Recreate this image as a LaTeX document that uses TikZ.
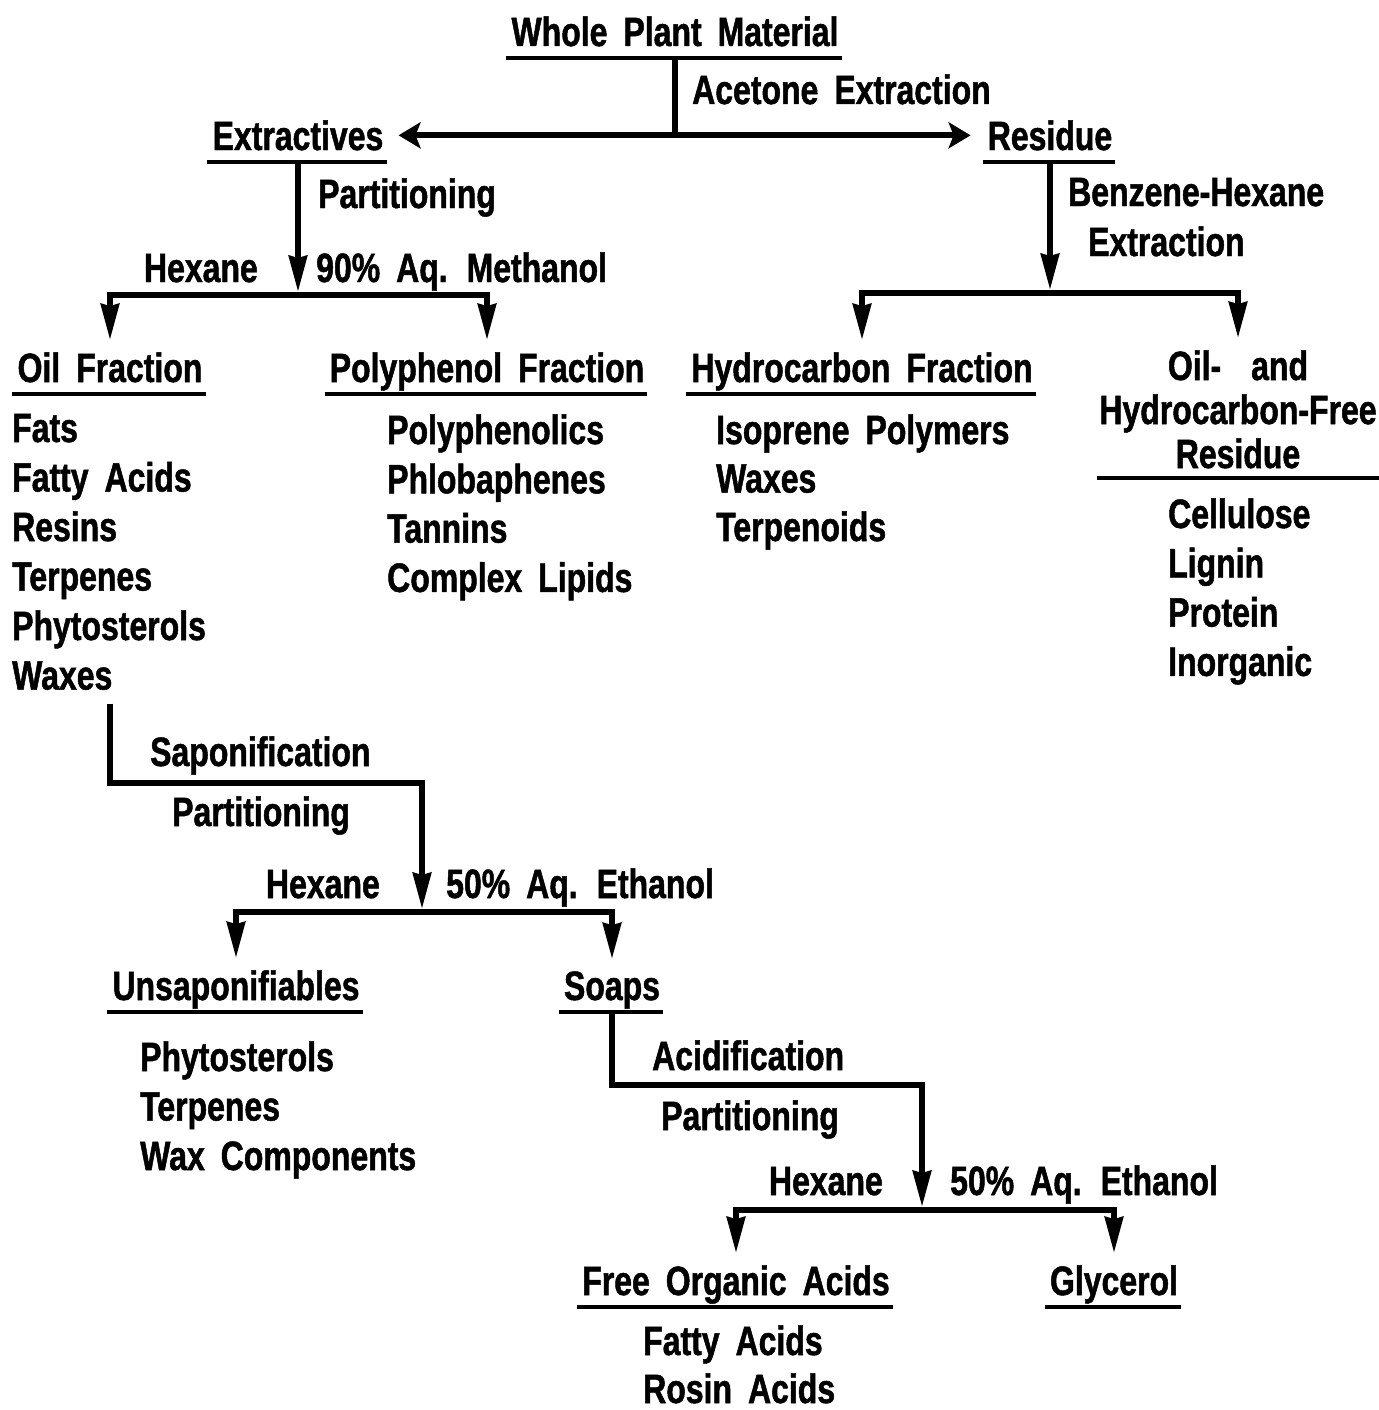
\documentclass[tikz,border=0pt]{standalone}
\usepackage{fontspec}
\setmainfont{Liberation Sans}[FakeStretch=0.78,WordSpace=1.8,FakeBold=1.2]
\usetikzlibrary{arrows.meta,calc}
\newcommand{\lblfont}{\fontsize{41}{41}\selectfont\bfseries}
\begin{document}
\begin{tikzpicture}[x=1pt,y=-1pt,
  ttl/.style={anchor=base, inner sep=0pt, font=\lblfont},
  txt/.style={anchor=base west, inner sep=0pt, font=\lblfont},
  txtr/.style={anchor=base east, inner sep=0pt, font=\lblfont},
  ln/.style={line width=6pt, line join=miter},
  ul/.style={line width=3.5pt},
  down/.style={-{Stealth[length=36pt,width=18pt,inset=2pt]}, shorten >=3pt},
  twodown/.style={{Stealth[length=36pt,width=18pt,inset=2pt]}-{Stealth[length=36pt,width=18pt,inset=2pt]}},
  dbl/.style={{Stealth[length=22pt,width=26pt,inset=5pt]}-{Stealth[length=22pt,width=26pt,inset=5pt]}}
]
\useasboundingbox (0,0) rectangle (1378,1410);
\fill[white] (0,0) rectangle (1378,1410);

% titles
\node[ttl] (wpm) at (675,46) {Whole Plant Material};
\node[ttl] (ext) at (298,150) {Extractives};
\node[ttl] (res) at (1050,150) {Residue};
\node[ttl] (oil) at (110,382) {Oil Fraction};
\node[ttl] (poly) at (487,382) {Polyphenol Fraction};
\node[ttl] (hyd) at (862,382) {Hydrocarbon Fraction};
\node[ttl] (ofr1) at (1238,380) {Oil-\hspace{14pt} and};
\node[ttl] (ofr2) at (1238,424) {Hydrocarbon-Free};
\node[ttl] (ofr3) at (1238,468) {Residue};
\node[ttl] (unsap) at (236,1000) {Unsaponifiables};
\node[ttl] (soaps) at (612,1000) {Soaps};
\node[ttl] (foa) at (736,1295) {Free Organic Acids};
\node[ttl] (gly) at (1114,1295) {Glycerol};

% underlines
\foreach \n in {wpm,ext,res,oil,poly,hyd,unsap,soaps,foa,gly}
  \draw[ul] ($(\n.base west)+(-5,12)$) -- ($(\n.base east)+(3,12)$);
\draw[ul] ($(ofr2.west |- ofr3.base)+(-2,10)$) -- ($(ofr2.east |- ofr3.base)+(2,10)$);

% process labels
\node[txt] (acet) at (692,104) {Acetone Extraction};
\node[txt] (part1) at (318,208) {Partitioning};
\node[txtr] (hex1) at (258,282) {Hexane};
\node[txt] (meth) at (316,282) {90\% Aq. Methanol};
\node[txt] (benz) at (1068,206) {Benzene-Hexane};
\node[txt] (extr) at (1088,256) {Extraction};
\node[txt] (sapon) at (150,766) {Saponification};
\node[txt] (part2) at (172,826) {Partitioning};
\node[txtr] (hex2) at (380,898) {Hexane};
\node[txt] (eth2) at (446,898) {50\% Aq. Ethanol};
\node[txt] (acid) at (652,1070) {Acidification};
\node[txt] (part3) at (661,1130) {Partitioning};
\node[txtr] (hex3) at (883,1195) {Hexane};
\node[txt] (eth3) at (950,1195) {50\% Aq. Ethanol};

% lists
\foreach \t [count=\i] in {Fats,Fatty Acids,Resins,Terpenes,Phytosterols,Waxes}
  \node[txt] (oilL\i) at (12,{442+49.5*(\i-1)}) {\t};
\foreach \t [count=\i] in {Polyphenolics,Phlobaphenes,Tannins,Complex Lipids}
  \node[txt] (polyL\i) at (387,{444+49.3*(\i-1)}) {\t};
\foreach \t [count=\i] in {Isoprene Polymers,Waxes,Terpenoids}
  \node[txt] (hydL\i) at (716,{444+48.5*(\i-1)}) {\t};
\foreach \t [count=\i] in {Cellulose,Lignin,Protein,Inorganic}
  \node[txt] (ofrL\i) at (1168,{528+49.3*(\i-1)}) {\t};
\foreach \t [count=\i] in {Phytosterols,Terpenes,Wax Components}
  \node[txt] (unsapL\i) at (140,{1071+49.5*(\i-1)}) {\t};
\foreach \t [count=\i] in {Fatty Acids,Rosin Acids}
  \node[txt] (foaL\i) at (643,{1355+48*(\i-1)}) {\t};

% junction coordinates
\coordinate (b1) at (298,295);
\coordinate (b4) at (1050,293);
\coordinate (k2) at (422,783);
\coordinate (b2) at (422,912);
\coordinate (k3) at (922,1085);
\coordinate (b3) at (922,1210);

% connectors
\draw[ln] ($(wpm.base)+(0,12)$) -- (wpm.base |- ext.center);
\draw[ln,dbl] ($(ext.east)+(15,0)$) -- ($(res.west)+(-17,0)$);

\draw[ln,down] ($(ext.base)+(0,10)$) -- (b1);
\draw[ln,twodown] ($(oil.north)+(0,-12)$) |- (b1) -| ($(poly.north)+(0,-12)$);

\draw[ln,down] ($(res.base)+(0,10)$) -- (b4);
\draw[ln,twodown] ($(hyd.north)+(0,-12)$) |- (b4) -| ($(ofr1.north)+(0,-12)$);

\draw[ln,down] ($(oil.base |- oilL6.base)+(0,14)$) |- (k2) -- (b2);
\draw[ln,twodown] ($(unsap.north)+(0,-12)$) |- (b2) -| ($(soaps.north)+(0,-12)$);

\draw[ln,down] ($(soaps.base)+(0,12)$) |- (k3) -- (b3);
\draw[ln,twodown] ($(foa.north)+(0,-12)$) |- (b3) -| ($(gly.north)+(0,-12)$);
\end{tikzpicture}
\end{document}
